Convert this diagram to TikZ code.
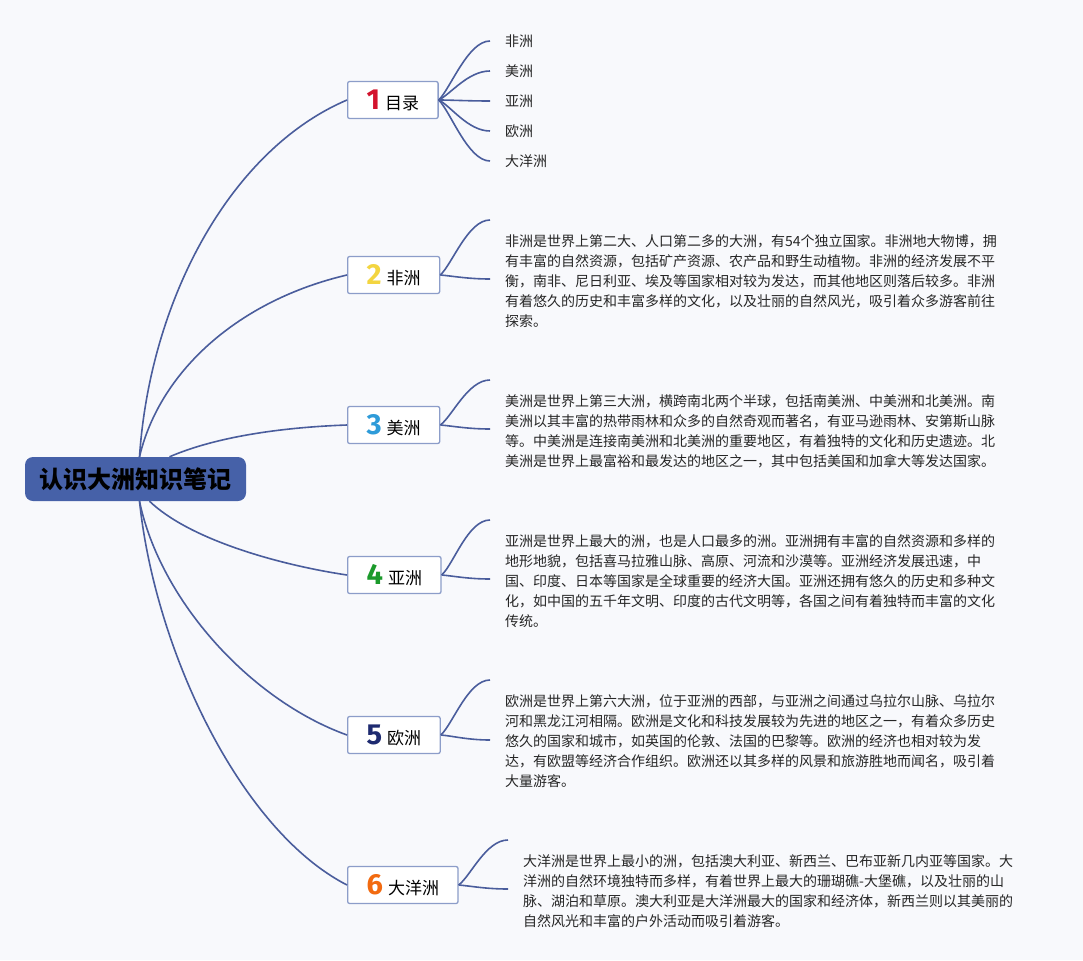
\documentclass[tikz,border=0pt]{standalone}
\usepackage{fontspec}
\setmainfont{Noto Sans CJK SC}
\newfontfamily\numfont{Fira Sans}
\definecolor{bg}{HTML}{F8F9FC}
\definecolor{edge}{HTML}{4A5D9C}
\definecolor{rootblue}{HTML}{4661A8}
\definecolor{boxline}{HTML}{8C9DC9}
\definecolor{noA}{HTML}{D3132D}
\definecolor{noB}{HTML}{F3D540}
\definecolor{noC}{HTML}{2E9BD9}
\definecolor{noD}{HTML}{1B9A2B}
\definecolor{noE}{HTML}{1E2A70}
\definecolor{noF}{HTML}{F26A10}
\newcommand{\topicno}[2]{{\numfont\bfseries\fontsize{29}{29}\selectfont\color{#1}#2}\hspace{5pt}}

\begin{document}
\begin{tikzpicture}[x=1pt,y=-1pt,
  link/.style={draw,edge,line width=1.6pt},
  topic/.style={draw=boxline,line width=1.3pt,fill=white,rounded corners=2pt,anchor=west,minimum height=37pt,inner xsep=19pt,font=\fontsize{17}{17}\selectfont},
  leaf/.style={anchor=west,inner sep=0pt,font=\fontsize{14}{20}\selectfont,text=black!85},
  note/.style={anchor=north west,align=left,inner sep=0pt,font=\fontsize{14}{20}\selectfont,text=black!85}]
\useasboundingbox (0,0) rectangle (1083,960);
\fill[bg] (0,0) rectangle (1083,960);
% central topic
\node[fill=rootblue,rounded corners=8pt,minimum width=221pt,minimum height=44pt,font=\bfseries\fontsize{24}{24}\selectfont] (r) at (135.5,479) {认识大洲知识笔记};
% main topics
\node[topic] (t1) at (347,100) {\topicno{noA}{1}目录};
\node[topic] (t2) at (347,275) {\topicno{noB}{2}非洲};
\node[topic] (t3) at (347,425) {\topicno{noC}{3}美洲};
\node[topic] (t4) at (347,575) {\topicno{noD}{4}亚洲};
\node[topic] (t5) at (347,735) {\topicno{noE}{5}欧洲};
\node[topic] (t6) at (347,885) {\topicno{noF}{6}大洋洲};
\path[link] ([xshift=4pt]r.north) .. controls (150,300) and (230,150) .. (t1.west);
\path[link] ([xshift=4pt]r.north) .. controls (160,370) and (240,300) .. (t2.west);
\path[link] ([xshift=34pt]r.north) .. controls (220,435) and (290,427) .. (t3.west);
\path[link] ([xshift=14pt]r.south) .. controls (190,540) and (280,565) .. (t4.west);
\path[link] ([xshift=4pt]r.south) .. controls (160,600) and (250,700) .. (t5.west);
\path[link] ([xshift=4pt]r.south) .. controls (155,650) and (240,830) .. (t6.west);
% contents
\node[leaf] (i1) at (505,41) {非洲};
\node[leaf] (i2) at (505,71) {美洲};
\node[leaf] (i3) at (505,101) {亚洲};
\node[leaf] (i4) at (505,131) {欧洲};
\node[leaf] (i5) at (505,161) {大洋洲};
\path[link] (t1.east) .. controls +(12,-12) and +(-22,0) .. ([xshift=-15pt]i1.west);
\path[link] (t1.east) .. controls +(12,-6) and +(-22,0) .. ([xshift=-15pt]i2.west);
\path[link] (t1.east) .. controls +(12,0) and +(-22,0) .. ([xshift=-15pt]i3.west);
\path[link] (t1.east) .. controls +(12,6) and +(-22,0) .. ([xshift=-15pt]i4.west);
\path[link] (t1.east) .. controls +(12,12) and +(-22,0) .. ([xshift=-15pt]i5.west);
% notes
\node[note] (n2) at (505,234) {非洲是世界上第二大、人口第二多的大洲，有54个独立国家。非洲地大物博，拥\\有丰富的自然资源，包括矿产资源、农产品和野生动植物。非洲的经济发展不平\\衡，南非、尼日利亚、埃及等国家相对较为发达，而其他地区则落后较多。非洲\\有着悠久的历史和丰富多样的文化，以及壮丽的自然风光，吸引着众多游客前往\\探索。};
\node[note] (n3) at (505,394) {美洲是世界上第三大洲，横跨南北两个半球，包括南美洲、中美洲和北美洲。南\\美洲以其丰富的热带雨林和众多的自然奇观而著名，有亚马逊雨林、安第斯山脉\\等。中美洲是连接南美洲和北美洲的重要地区，有着独特的文化和历史遗迹。北\\美洲是世界上最富裕和最发达的地区之一，其中包括美国和加拿大等发达国家。};
\node[note] (n4) at (505,534) {亚洲是世界上最大的洲，也是人口最多的洲。亚洲拥有丰富的自然资源和多样的\\地形地貌，包括喜马拉雅山脉、高原、河流和沙漠等。亚洲经济发展迅速，中\\国、印度、日本等国家是全球重要的经济大国。亚洲还拥有悠久的历史和多种文\\化，如中国的五千年文明、印度的古代文明等，各国之间有着独特而丰富的文化\\传统。};
\node[note] (n5) at (505,694) {欧洲是世界上第六大洲，位于亚洲的西部，与亚洲之间通过乌拉尔山脉、乌拉尔\\河和黑龙江河相隔。欧洲是文化和科技发展较为先进的地区之一，有着众多历史\\悠久的国家和城市，如英国的伦敦、法国的巴黎等。欧洲的经济也相对较为发\\达，有欧盟等经济合作组织。欧洲还以其多样的风景和旅游胜地而闻名，吸引着\\大量游客。};
\node[note] (n6) at (523,854) {大洋洲是世界上最小的洲，包括澳大利亚、新西兰、巴布亚新几内亚等国家。大\\洋洲的自然环境独特而多样，有着世界上最大的珊瑚礁-大堡礁，以及壮丽的山\\脉、湖泊和草原。澳大利亚是大洋洲最大的国家和经济体，新西兰则以其美丽的\\自然风光和丰富的户外活动而吸引着游客。};
\coordinate (c2) at (490,220);
\coordinate (d2) at (490,279);
\coordinate (c3) at (490,380);
\coordinate (d3) at (490,429);
\coordinate (c4) at (490,520);
\coordinate (d4) at (490,579);
\coordinate (c5) at (490,680);
\coordinate (d5) at (490,740);
\coordinate (c6) at (508,840);
\coordinate (d6) at (508,889);
\path[link] (t2.east) .. controls +(12,-11) and +(-22,0) .. (c2);
\path[link] (t2.east) .. controls +(12,1) and +(-22,0) .. (d2);
\path[link] (t3.east) .. controls +(12,-9) and +(-22,0) .. (c3);
\path[link] (t3.east) .. controls +(12,1) and +(-22,0) .. (d3);
\path[link] (t4.east) .. controls +(12,-11) and +(-22,0) .. (c4);
\path[link] (t4.east) .. controls +(12,1) and +(-22,0) .. (d4);
\path[link] (t5.east) .. controls +(12,-11) and +(-22,0) .. (c5);
\path[link] (t5.east) .. controls +(12,1) and +(-22,0) .. (d5);
\path[link] (t6.east) .. controls +(12,-9) and +(-22,0) .. (c6);
\path[link] (t6.east) .. controls +(12,1) and +(-22,0) .. (d6);
\end{tikzpicture}
\end{document}
